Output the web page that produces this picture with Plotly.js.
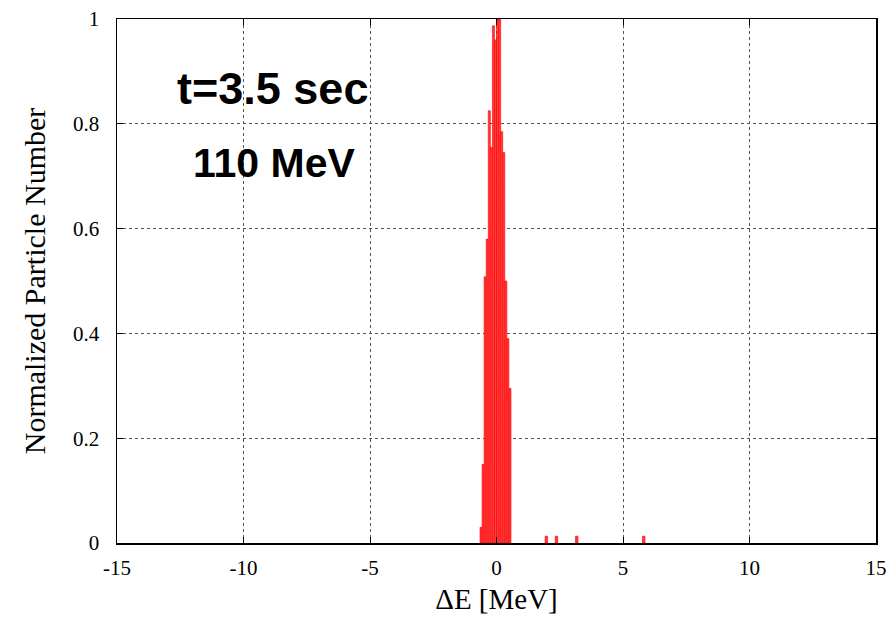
<!DOCTYPE html>
<html>
<head>
<meta charset="utf-8">
<script src="https://cdn.plot.ly/plotly-3.0.1.min.js"></script>
<style>html,body{margin:0;padding:0;background:#fff;}#chart{width:895px;height:617px;}</style>
</head>
<body>
<div id="chart"></div>
<script>
// Energy deviation bin centres [MeV] and normalized particle counts
const coreEnergy = [-0.611, -0.529, -0.448, -0.366, -0.284, -0.203, -0.121, -0.039, 0.042, 0.124, 0.205, 0.287, 0.369, 0.450, 0.532];
const coreCounts = [0.03, 0.15, 0.508, 0.58, 0.825, 0.755, 0.987, 0.96, 1.0, 1.0, 0.785, 0.745, 0.50, 0.39, 0.295];
const tailEnergy = [1.97, 2.37, 3.17, 5.82];
const tailCounts = [0.013, 0.013, 0.013, 0.013];
const xTicks = [-15, -10, -5, 0, 5, 10, 15];
const yTicks = [0, 0.2, 0.4, 0.6, 0.8, 1];
const labelTime = 't=3.5 sec';
const labelEnergy = '110 MeV';

const barStyle = {color: '#ff3b3b', line: {color: '#ff0000', width: 0.6}};
const traces = [
  {type: 'bar', x: coreEnergy, y: coreCounts, width: 0.0817, marker: barStyle, hoverinfo: 'x+y'},
  {type: 'bar', x: tailEnergy, y: tailCounts, width: 0.1, marker: barStyle, hoverinfo: 'x+y'}
];

const serif = 'Liberation Serif, Times New Roman, serif';
const axisCommon = {
  showline: true, linecolor: '#000', linewidth: 1.5, mirror: 'allticks',
  ticks: 'inside', ticklen: 6, tickcolor: '#000', tickwidth: 1,
  showgrid: true, gridcolor: '#555', griddash: 'dot', gridwidth: 1,
  zeroline: false, tickfont: {family: serif, size: 21, color: '#000'},
  automargin: false
};

const layout = {
  width: 895, height: 617,
  margin: {l: 117, r: 19, t: 19, b: 74},
  paper_bgcolor: '#fff', plot_bgcolor: '#fff',
  showlegend: false, barmode: 'overlay', bargap: 0,
  xaxis: Object.assign({}, axisCommon, {
    range: [-15, 15], tickmode: 'array', tickvals: xTicks, ticktext: xTicks.map(String),
    ticklabelstandoff: 5,
    title: {text: '\u0394E [MeV]', font: {family: serif, size: 29, color: '#000'}, standoff: 10}
  }),
  yaxis: Object.assign({}, axisCommon, {
    range: [0, 1], tickmode: 'array', tickvals: yTicks, ticktext: yTicks.map(String),
    ticklabelstandoff: 12,
    title: {text: 'Normalized Particle Number', font: {family: serif, size: 30, color: '#000'}, standoff: 18}
  }),
  annotations: [
    {text: '<b>' + labelTime + '</b>', xref: 'paper', yref: 'paper', x: (272 - 117) / 759, y: (543 - 89) / 524,
     xanchor: 'center', yanchor: 'middle', showarrow: false,
     font: {family: 'Liberation Sans, Arial, sans-serif', size: 45, color: '#000'}},
    {text: '<b>' + labelEnergy + '</b>', xref: 'paper', yref: 'paper', x: (273.5 - 117) / 759, y: (543 - 163) / 524,
     xanchor: 'center', yanchor: 'middle', showarrow: false,
     font: {family: 'Liberation Sans, Arial, sans-serif', size: 41, color: '#000'}}
  ]
};

Plotly.newPlot('chart', traces, layout, {displayModeBar: false, staticPlot: true});
</script>
</body>
</html>
